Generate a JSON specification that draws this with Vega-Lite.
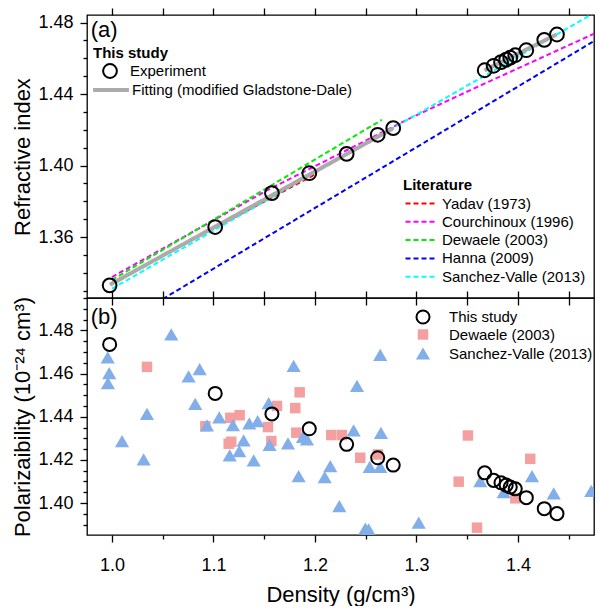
{
  "$schema": "https://vega.github.io/schema/vega-lite/v6.json",
  "padding": {"left": 10, "top": 6, "right": 0, "bottom": 0},
  "bounds": "flush",
  "spacing": 0,
  "config": {
    "font": "Liberation Sans",
    "view": {"stroke": "black", "strokeWidth": 1.3},
    "axis": {"domain": false, "grid": false, "labelFont": "Liberation Sans", "labelFontSize": 18, "labelColor": "black", "titleFont": "Liberation Sans", "titleFontSize": 22, "titleFontWeight": "normal", "titleColor": "black", "tickColor": "black", "tickWidth": 1.3, "labelPadding": 7, "labelOverlap": false},
    "legend": {"labelFont": "Liberation Sans", "labelFontSize": 15, "labelColor": "black", "titleFont": "Liberation Sans", "titleFontSize": 15, "titleColor": "black", "titleFontWeight": "bold", "padding": 0, "labelLimit": 400}
  },
  "datasets": {
    "exp": [
      {"d": 0.9977, "n": 1.3330, "a": 1.4735},
      {"d": 1.1017, "n": 1.3656, "a": 1.4508},
      {"d": 1.1576, "n": 1.3846, "a": 1.4413},
      {"d": 1.1944, "n": 1.3957, "a": 1.4344},
      {"d": 1.2312, "n": 1.4065, "a": 1.4272},
      {"d": 1.2618, "n": 1.4172, "a": 1.4210},
      {"d": 1.2771, "n": 1.4209, "a": 1.4176},
      {"d": 1.3672, "n": 1.4533, "a": 1.4140},
      {"d": 1.3760, "n": 1.4558, "a": 1.4105},
      {"d": 1.3833, "n": 1.4578, "a": 1.4094},
      {"d": 1.3884, "n": 1.4592, "a": 1.4083},
      {"d": 1.3924, "n": 1.4603, "a": 1.4074},
      {"d": 1.3973, "n": 1.4617, "a": 1.4066},
      {"d": 1.4082, "n": 1.4645, "a": 1.4025},
      {"d": 1.4259, "n": 1.4703, "a": 1.3974},
      {"d": 1.4384, "n": 1.4733, "a": 1.3951}
    ],
    "fit": [
      {"seg": 1, "d": 0.998, "n": 1.3333},
      {"seg": 1, "d": 1.277, "n": 1.4208},
      {"seg": 2, "d": 1.367, "n": 1.4532},
      {"seg": 2, "d": 1.438, "n": 1.4733}
    ],
    "lit": [
      {"src": "Yadav (1973)", "d": 1.0, "n": 1.3345},
      {"src": "Yadav (1973)", "d": 1.2, "n": 1.3950},
      {"src": "Courchinoux (1996)", "d": 1.0, "n": 1.3376},
      {"src": "Courchinoux (1996)", "d": 1.1527, "n": 1.3861},
      {"src": "Courchinoux (1996)", "d": 1.2939, "n": 1.4265},
      {"src": "Courchinoux (1996)", "d": 1.3596, "n": 1.4439},
      {"src": "Courchinoux (1996)", "d": 1.476, "n": 1.4740},
      {"src": "Dewaele (2003)", "d": 1.0, "n": 1.3360},
      {"src": "Dewaele (2003)", "d": 1.266, "n": 1.4256},
      {"src": "Hanna (2009)", "d": 1.05, "n": 1.3253},
      {"src": "Hanna (2009)", "d": 1.476, "n": 1.4700},
      {"src": "Sanchez-Valle (2013)", "d": 1.0, "n": 1.3311},
      {"src": "Sanchez-Valle (2013)", "d": 1.476, "n": 1.4856}
    ],
    "pts": [
      {"src": "Dewaele (2003)", "d": 1.0345, "a": 1.4631},
      {"src": "Dewaele (2003)", "d": 1.0920, "a": 1.4356},
      {"src": "Dewaele (2003)", "d": 1.1150, "a": 1.4275},
      {"src": "Dewaele (2003)", "d": 1.1175, "a": 1.4284},
      {"src": "Dewaele (2003)", "d": 1.1166, "a": 1.4395},
      {"src": "Dewaele (2003)", "d": 1.1258, "a": 1.4407},
      {"src": "Dewaele (2003)", "d": 1.1537, "a": 1.4352},
      {"src": "Dewaele (2003)", "d": 1.1570, "a": 1.4287},
      {"src": "Dewaele (2003)", "d": 1.1626, "a": 1.4450},
      {"src": "Dewaele (2003)", "d": 1.1806, "a": 1.4440},
      {"src": "Dewaele (2003)", "d": 1.1816, "a": 1.4326},
      {"src": "Dewaele (2003)", "d": 1.1849, "a": 1.4513},
      {"src": "Dewaele (2003)", "d": 1.2161, "a": 1.4315},
      {"src": "Dewaele (2003)", "d": 1.2266, "a": 1.4315},
      {"src": "Dewaele (2003)", "d": 1.2446, "a": 1.4210},
      {"src": "Dewaele (2003)", "d": 1.2620, "a": 1.4225},
      {"src": "Dewaele (2003)", "d": 1.3416, "a": 1.4099},
      {"src": "Dewaele (2003)", "d": 1.3507, "a": 1.4313},
      {"src": "Dewaele (2003)", "d": 1.3596, "a": 1.3886},
      {"src": "Dewaele (2003)", "d": 1.3974, "a": 1.4022},
      {"src": "Dewaele (2003)", "d": 1.4121, "a": 1.4205},
      {"src": "Sanchez-Valle (2013)", "d": 0.9958, "a": 1.4675},
      {"src": "Sanchez-Valle (2013)", "d": 0.9973, "a": 1.4602},
      {"src": "Sanchez-Valle (2013)", "d": 0.9960, "a": 1.4556},
      {"src": "Sanchez-Valle (2013)", "d": 1.0099, "a": 1.4287},
      {"src": "Sanchez-Valle (2013)", "d": 1.0312, "a": 1.4202},
      {"src": "Sanchez-Valle (2013)", "d": 1.0345, "a": 1.4413},
      {"src": "Sanchez-Valle (2013)", "d": 1.0584, "a": 1.4782},
      {"src": "Sanchez-Valle (2013)", "d": 1.0755, "a": 1.4587},
      {"src": "Sanchez-Valle (2013)", "d": 1.0820, "a": 1.4460},
      {"src": "Sanchez-Valle (2013)", "d": 1.0864, "a": 1.4620},
      {"src": "Sanchez-Valle (2013)", "d": 1.0936, "a": 1.4360},
      {"src": "Sanchez-Valle (2013)", "d": 1.1057, "a": 1.4397},
      {"src": "Sanchez-Valle (2013)", "d": 1.1160, "a": 1.4221},
      {"src": "Sanchez-Valle (2013)", "d": 1.1192, "a": 1.4361},
      {"src": "Sanchez-Valle (2013)", "d": 1.1254, "a": 1.4241},
      {"src": "Sanchez-Valle (2013)", "d": 1.1297, "a": 1.4290},
      {"src": "Sanchez-Valle (2013)", "d": 1.1353, "a": 1.4369},
      {"src": "Sanchez-Valle (2013)", "d": 1.1396, "a": 1.4198},
      {"src": "Sanchez-Valle (2013)", "d": 1.1435, "a": 1.4380},
      {"src": "Sanchez-Valle (2013)", "d": 1.1544, "a": 1.4463},
      {"src": "Sanchez-Valle (2013)", "d": 1.1553, "a": 1.4269},
      {"src": "Sanchez-Valle (2013)", "d": 1.1734, "a": 1.4276},
      {"src": "Sanchez-Valle (2013)", "d": 1.1790, "a": 1.4636},
      {"src": "Sanchez-Valle (2013)", "d": 1.1839, "a": 1.4125},
      {"src": "Sanchez-Valle (2013)", "d": 1.1882, "a": 1.4307},
      {"src": "Sanchez-Valle (2013)", "d": 1.1921, "a": 1.4295},
      {"src": "Sanchez-Valle (2013)", "d": 1.2096, "a": 1.4120},
      {"src": "Sanchez-Valle (2013)", "d": 1.2151, "a": 1.4171},
      {"src": "Sanchez-Valle (2013)", "d": 1.2240, "a": 1.3986},
      {"src": "Sanchez-Valle (2013)", "d": 1.2381, "a": 1.4337},
      {"src": "Sanchez-Valle (2013)", "d": 1.2414, "a": 1.4543},
      {"src": "Sanchez-Valle (2013)", "d": 1.2496, "a": 1.3881},
      {"src": "Sanchez-Valle (2013)", "d": 1.2529, "a": 1.3878},
      {"src": "Sanchez-Valle (2013)", "d": 1.2539, "a": 1.4168},
      {"src": "Sanchez-Valle (2013)", "d": 1.2643, "a": 1.4168},
      {"src": "Sanchez-Valle (2013)", "d": 1.2643, "a": 1.4687},
      {"src": "Sanchez-Valle (2013)", "d": 1.2650, "a": 1.4325},
      {"src": "Sanchez-Valle (2013)", "d": 1.3022, "a": 1.3909},
      {"src": "Sanchez-Valle (2013)", "d": 1.3629, "a": 1.4102},
      {"src": "Sanchez-Valle (2013)", "d": 1.3859, "a": 1.4051},
      {"src": "Sanchez-Valle (2013)", "d": 1.4138, "a": 1.4125},
      {"src": "Sanchez-Valle (2013)", "d": 1.4352, "a": 1.4045},
      {"src": "Sanchez-Valle (2013)", "d": 1.4722, "a": 1.4056}
    ]
  },
  "vconcat": [
    {
      "width": 507,
      "height": 283,
      "layer": [
        {
          "data": {"name": "lit"},
          "mark": {"type": "line", "strokeDash": [5, 3], "strokeWidth": 2, "clip": true},
          "encoding": {
            "x": {"field": "d", "type": "quantitative", "scale": {"domain": [0.9754, 1.4749], "nice": false, "zero": false},
                  "axis": {"orient": "top", "values": [1.0, 1.05, 1.1, 1.15, 1.2, 1.25, 1.3, 1.35, 1.4, 1.45], "labels": false, "tickSize": 7, "title": null}},
            "y": {"field": "n", "type": "quantitative", "scale": {"domain": [1.3259, 1.4842], "nice": false, "zero": false},
                  "axis": {"orient": "left", "title": "Refractive index", "titlePadding": 3, "minExtent": 50, "maxExtent": 50,
                           "values": [1.36, 1.40, 1.44, 1.48], "format": ".2f", "tickSize": 7}},
            "color": {"field": "src", "type": "nominal",
                      "scale": {"domain": ["Yadav (1973)", "Courchinoux (1996)", "Dewaele (2003)", "Hanna (2009)", "Sanchez-Valle (2013)"],
                                "range": ["#ff0000", "#ff00ff", "#00ee00", "#0000ff", "#00ffff"]},
                      "legend": {"title": "Literature", "orient": "none", "legendX": 316, "legendY": 163, "titlePadding": 3,
                                 "symbolType": "M-4,0H4", "symbolSize": 64, "symbolDash": [5, 3], "symbolStrokeWidth": 2,
                                 "symbolOffset": 11, "labelOffset": 13, "rowPadding": 2.3}}
          }
        },
        {
          "data": {"name": "fit"},
          "mark": {"type": "line", "color": "#ababab", "strokeWidth": 4},
          "encoding": {
            "x": {"field": "d", "type": "quantitative",
                  "axis": {"orient": "bottom", "values": [1.0, 1.05, 1.1, 1.15, 1.2, 1.25, 1.3, 1.35, 1.4, 1.45], "labels": false, "tickSize": 7, "title": null}},
            "y": {"field": "n", "type": "quantitative",
                  "axis": {"orient": "left", "values": [1.33, 1.34, 1.35, 1.37, 1.38, 1.39, 1.41, 1.42, 1.43, 1.45, 1.46, 1.47], "labels": false, "tickSize": 4, "title": null, "minExtent": 0, "maxExtent": 0}},
            "detail": {"field": "seg", "type": "nominal"},
            "strokeDash": {"datum": "Fitting (modified Gladstone-Dale)", "type": "nominal",
                           "scale": {"domain": ["Fitting (modified Gladstone-Dale)"], "range": [[1, 0]]},
                           "legend": {"title": null, "orient": "none", "legendX": 6, "legendY": 66,
                                      "symbolType": "M-2.6,0H2.6", "symbolSize": 190, "symbolOffset": 9, "labelOffset": 12,
                                      "symbolStrokeWidth": 4, "symbolStrokeColor": "#ababab"}}
          }
        },
        {
          "data": {"name": "exp"},
          "mark": {"type": "point", "filled": false, "stroke": "black", "strokeWidth": 2, "size": 190, "opacity": 1},
          "encoding": {
            "x": {"field": "d", "type": "quantitative", "axis": null},
            "y": {"field": "n", "type": "quantitative", "axis": null},
            "shape": {"datum": "Experiment", "type": "nominal",
                      "scale": {"domain": ["Experiment"], "range": ["circle"]},
                      "legend": {"title": "This study", "orient": "none", "legendX": 6, "legendY": 31, "titlePadding": 2,
                                 "symbolSize": 190, "symbolOffset": 9, "labelOffset": 12,
                                 "symbolStrokeWidth": 2, "symbolStrokeColor": "black"}}
          }
        },
        {
          "data": {"values": [{}]},
          "mark": {"type": "text", "fontSize": 22, "align": "left", "baseline": "middle", "font": "Liberation Sans", "color": "black"},
          "encoding": {
            "x": {"datum": 0.979, "type": "quantitative", "axis": null},
            "y": {"datum": 1.4760, "type": "quantitative", "axis": null},
            "text": {"value": "(a)"}
          }
        }
      ],
      "resolve": {"axis": {"x": "independent", "y": "independent"}}
    },
    {
      "width": 507,
      "height": 237,
      "layer": [
        {
          "data": {"name": "pts"},
          "mark": {"type": "point", "filled": true, "opacity": 1, "clip": true},
          "encoding": {
            "x": {"field": "d", "type": "quantitative", "scale": {"domain": [0.9754, 1.4749], "nice": false, "zero": false},
                  "axis": {"orient": "top", "values": [1.0, 1.05, 1.1, 1.15, 1.2, 1.25, 1.3, 1.35, 1.4, 1.45], "labels": false, "tickSize": 7, "title": null}},
            "y": {"field": "a", "type": "quantitative", "scale": {"domain": [1.3852, 1.495], "nice": false, "zero": false},
                  "axis": {"orient": "left", "title": "Polarizaibility (10⁻²⁴ cm³)", "titlePadding": 3, "minExtent": 50, "maxExtent": 50,
                           "values": [1.40, 1.42, 1.44, 1.46, 1.48], "format": ".2f", "tickSize": 7}},
            "shape": {"field": "src", "type": "nominal",
                      "scale": {"domain": ["Dewaele (2003)", "Sanchez-Valle (2013)"], "range": ["square", "triangle-up"]},
                      "legend": {"title": null, "orient": "none", "legendX": 328, "legendY": 29,
                                 "symbolOffset": 0, "labelOffset": 18, "rowPadding": 2.5}},
            "color": {"field": "src", "type": "nominal",
                      "scale": {"domain": ["Dewaele (2003)", "Sanchez-Valle (2013)"], "range": ["#f4a0a0", "#82aeea"]},
                      "legend": {"title": null, "orient": "none", "legendX": 328, "legendY": 29,
                                 "symbolOffset": 0, "labelOffset": 18, "rowPadding": 2.5}},
            "size": {"field": "src", "type": "nominal",
                     "scale": {"domain": ["Dewaele (2003)", "Sanchez-Valle (2013)"], "range": [110, 200]},
                     "legend": {"title": null, "orient": "none", "legendX": 328, "legendY": 29,
                                "symbolOffset": 0, "labelOffset": 18, "rowPadding": 2.5}}
          }
        },
        {
          "data": {"name": "exp"},
          "mark": {"type": "point", "filled": false, "stroke": "black", "strokeWidth": 2, "size": 170, "opacity": 1},
          "encoding": {
            "x": {"field": "d", "type": "quantitative",
                  "axis": {"orient": "bottom", "title": "Density (g/cm³)", "titlePadding": 10, "labelPadding": 14,
                           "values": [1.0, 1.1, 1.2, 1.3, 1.4], "format": ".1f", "tickSize": 7}},
            "y": {"field": "a", "type": "quantitative",
                  "axis": {"orient": "left", "values": [1.385, 1.39, 1.395, 1.405, 1.41, 1.415, 1.425, 1.43, 1.435, 1.445, 1.45, 1.455, 1.465, 1.47, 1.475, 1.485, 1.49, 1.495], "labels": false, "tickSize": 4, "title": null, "minExtent": 0, "maxExtent": 0}},
            "shape": {"datum": "This study", "type": "nominal",
                      "scale": {"domain": ["This study"], "range": ["circle"]},
                      "legend": {"title": null, "orient": "none", "legendX": 328, "legendY": 11,
                                 "symbolSize": 170, "symbolOffset": 0, "labelOffset": 18,
                                 "symbolStrokeWidth": 2, "symbolStrokeColor": "black"}}
          }
        },
        {
          "data": {"values": [{}]},
          "mark": {"type": "text", "fontSize": 22, "align": "left", "baseline": "middle", "font": "Liberation Sans", "color": "black"},
          "encoding": {
            "x": {"datum": 0.979, "type": "quantitative",
                  "axis": {"orient": "bottom", "values": [1.05, 1.15, 1.25, 1.35, 1.45], "labels": false, "tickSize": 4, "title": null, "minExtent": 0, "maxExtent": 0}},
            "y": {"datum": 1.4860, "type": "quantitative", "axis": null},
            "text": {"value": "(b)"}
          }
        }
      ],
      "resolve": {"axis": {"x": "independent", "y": "independent"},
                  "scale": {"shape": "independent", "color": "independent", "size": "independent"},
                  "legend": {"shape": "independent", "color": "independent", "size": "independent"}}
    }
  ],
  "resolve": {"scale": {"x": "independent", "y": "independent", "color": "independent", "shape": "independent", "strokeDash": "independent", "size": "independent"}}
}
